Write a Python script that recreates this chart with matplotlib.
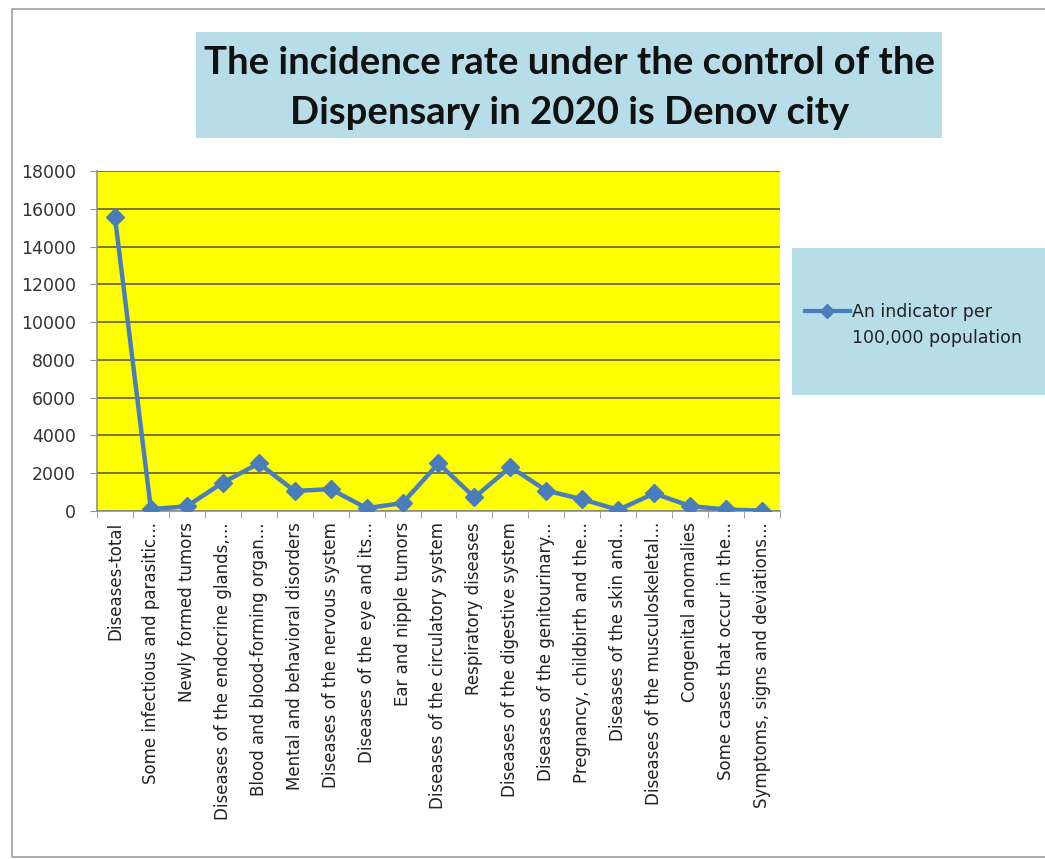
import matplotlib.pyplot as plt
from matplotlib.patches import Rectangle
from matplotlib.lines import Line2D

categories = [
    'Diseases-total',
    'Some infectious and parasitic...',
    'Newly formed tumors',
    'Diseases of the endocrine glands,...',
    'Blood and blood-forming organ...',
    'Mental and behavioral disorders',
    'Diseases of the nervous system',
    'Diseases of the eye and its...',
    'Ear and nipple tumors',
    'Diseases of the circulatory system',
    'Respiratory diseases',
    'Diseases of the digestive system',
    'Diseases of the genitourinary...',
    'Pregnancy, childbirth and the...',
    'Diseases of the skin and...',
    'Diseases of the musculoskeletal...',
    'Congenital anomalies',
    'Some cases that occur in the...',
    'Symptoms, signs and deviations...',
]
values = [15550, 100, 250, 1500, 2520, 1060, 1160, 150, 420, 2520,
          720, 2330, 1080, 620, 60, 930, 260, 80, 20]
series_name = 'An indicator per\n100,000 population'
title = 'The incidence rate under the control of the\nDispensary in 2020 is Denov city'
yticks = list(range(0, 18001, 2000))

box_blue = '#B7DDE8'
line_blue = '#4A7EBB'

plt.rcParams['font.family'] = ['Lato', 'DejaVu Sans']

fig = plt.figure(figsize=(10.45, 8.59), dpi=100)

# chart area border (excel chart object)
fig.patches.append(Rectangle((12 / 1045, 1 - 857 / 859), 1.1, (857 - 9) / 859,
                             transform=fig.transFigure, fill=False,
                             edgecolor='#a0a0a0', linewidth=1.2))

# title box
fig.patches.append(Rectangle((196 / 1045, 1 - 138 / 859), (942 - 196) / 1045, (138 - 32) / 859,
                             transform=fig.transFigure, facecolor=box_blue,
                             edgecolor='none'))
fig.text(570 / 1045, 1 - 88 / 859, title, ha='center', va='center',
         fontsize=27.5, fontweight='bold', color='#111111', linespacing=1.55)

ax = fig.add_axes([97 / 1045, 1 - 511 / 859, (780 - 97) / 1045, (511 - 171) / 859])
ax.set_facecolor('#FFFF00')

x = list(range(len(categories)))
ax.plot(x, values, color=line_blue, linewidth=3.2, marker='D', markersize=9,
        markerfacecolor=line_blue, markeredgecolor=line_blue, zorder=3)

ax.set_xlim(-0.5, len(categories) - 0.5)
ax.set_ylim(0, 18000)
ax.set_yticks(yticks)
ax.set_yticklabels([str(t) for t in yticks], fontsize=12.5, color='#333333',
                   family='DejaVu Sans')
ax.yaxis.grid(True, color='#6e6a3a', linewidth=1.3)
ax.set_axisbelow(True)

ax.set_xticks(x)
ax.set_xticklabels(categories, rotation=90, fontsize=12, color='#222222',
                   va='top', ha='center', family='DejaVu Sans')
ax.set_xticks([i - 0.5 for i in range(len(categories) + 1)], minor=True)
ax.tick_params(axis='x', which='major', length=0, pad=8)
ax.tick_params(axis='x', which='minor', length=5, color='#909090', direction='out')
ax.tick_params(axis='y', length=5, color='#909090', direction='out', pad=10)

for side in ['top', 'right']:
    ax.spines[side].set_visible(False)
for side in ['left', 'bottom']:
    ax.spines[side].set_color('#909090')
    ax.spines[side].set_linewidth(1.2)

# legend box
fig.patches.append(Rectangle((792 / 1045, 1 - 395 / 859), (1045 - 792) / 1045, (395 - 248) / 859,
                             transform=fig.transFigure, facecolor=box_blue,
                             edgecolor='none'))
fig.add_artist(Line2D([805 / 1045, 850 / 1045], [1 - 311 / 859, 1 - 311 / 859],
                      transform=fig.transFigure, color=line_blue, linewidth=3))
fig.add_artist(Line2D([827 / 1045], [1 - 311 / 859], transform=fig.transFigure,
                      color=line_blue, marker='D', markersize=7, linestyle='none'))
fig.text(852 / 1045, 1 - 325 / 859, series_name, ha='left', va='center',
         fontsize=12.5, family='DejaVu Sans', color='#222222', linespacing=1.55)

fig.savefig('out.png', dpi=100, facecolor='white')
